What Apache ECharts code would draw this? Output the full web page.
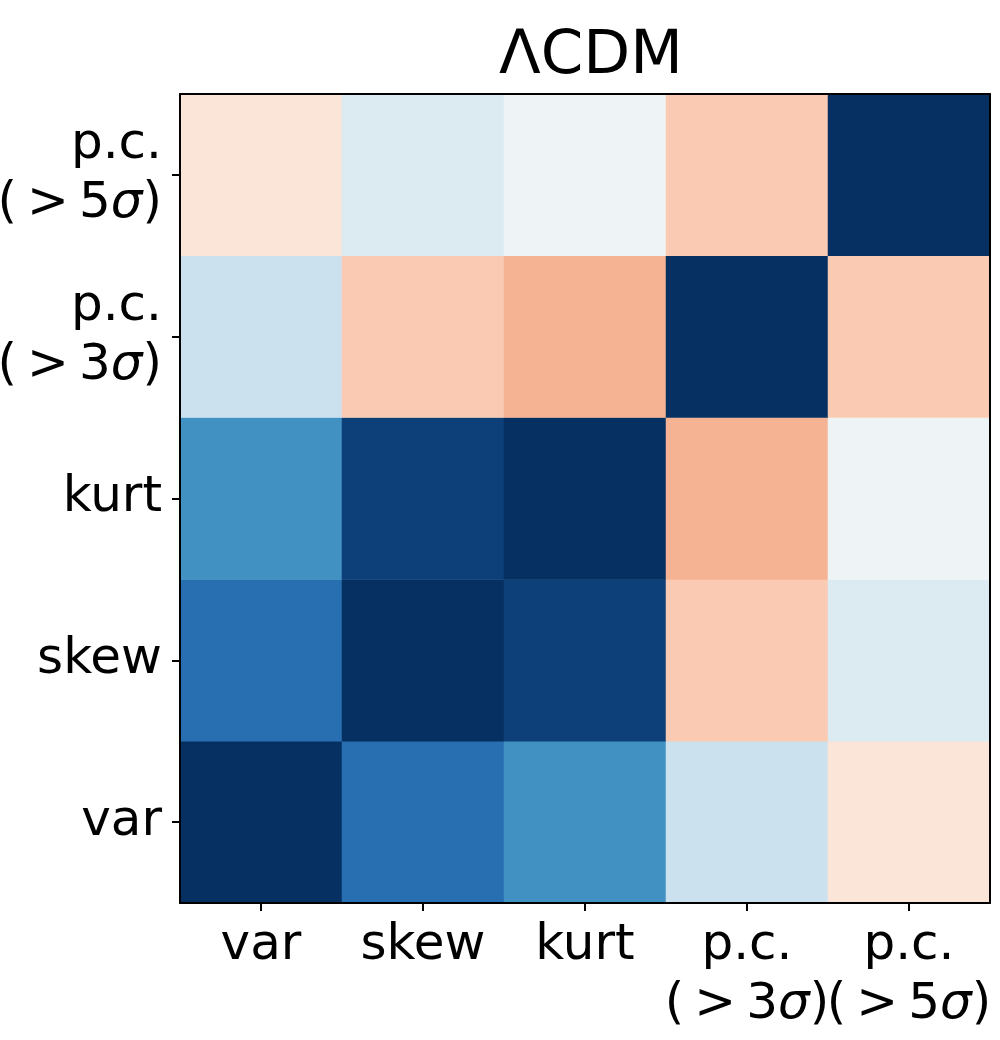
<!DOCTYPE html>
<html>
<head>
<meta charset="utf-8">
<script src="https://cdn.jsdelivr.net/npm/echarts@6/dist/echarts.min.js"></script>
<style>html,body{margin:0;padding:0;background:#fff}#c{width:1000px;height:1040px}</style>
</head>
<body>
<div id="c"></div>
<script>
// Categories (x left->right, y bottom->top)
const categories = ['var', 'skew', 'kurt', 'pc3', 'pc5'];
const tickLabelsX = ['var', 'skew', 'kurt', 'p.c.\n(\u2009>\u20093{i|σ})', 'p.c.\n(\u2009>\u20095{i|σ})'];
const tickLabelsY = ['var', 'skew', 'kurt', 'p.c.\n(\u2009>\u20093{i|σ})', 'p.c.\n(\u2009>\u20095{i|σ})'];
// Correlation matrix rows (same order as categories)
const rowVar  = [1.00, 0.76, 0.61, 0.22, -0.13];
const rowSkew = [0.76, 1.00, 0.94, -0.26, 0.14];
const rowKurt = [0.61, 0.94, 1.00, -0.35, 0.05];
const rowPc3  = [0.22, -0.26, -0.35, 1.00, -0.26];
const rowPc5  = [-0.13, 0.14, 0.05, -0.26, 1.00];
const rows = [rowVar, rowSkew, rowKurt, rowPc3, rowPc5];
const RdBu_r = ['#053061','#2166ac','#4393c3','#92c5de','#d1e5f0','#f7f7f7','#fddbc7','#f4a582','#d6604d','#b2182b','#67001f'].reverse();

const data = [];
rows.forEach((r, yi) => r.forEach((v, xi) => data.push([xi, yi, v])));

const font = 'DejaVu Sans';
const labelStyle = {
  fontFamily: font, fontSize: 50, color: '#000', lineHeight: 59,
  rich: { i: { fontFamily: font, fontSize: 50, fontStyle: 'italic', color: '#000', lineHeight: 59 } }
};
const chart = echarts.init(document.getElementById('c'));
chart.setOption({
  animation: false,
  backgroundColor: '#fff',
  title: {
    text: 'ΛCDM', left: 586, top: 22, textAlign: 'center',
    textStyle: { fontFamily: font, fontSize: 61, fontWeight: 'normal', color: '#000' }
  },
  grid: { left: 180, top: 94, width: 810, height: 809, containLabel: false, outerBoundsMode: 'none' },
  visualMap: { show: false, min: -1, max: 1, dimension: 2, inRange: { color: RdBu_r } },
  xAxis: [
    { type: 'category', data: categories, position: 'bottom', z: 10,
      axisLine: { show: true, lineStyle: { color: '#000', width: 2 } },
      axisTick: { show: true, alignWithLabel: true, length: 8, lineStyle: { color: '#000', width: 2 } },
      axisLabel: Object.assign({ interval: 0, margin: 14, hideOverlap: false,
        formatter: (v, i) => tickLabelsX[i] }, labelStyle),
      splitLine: { show: false } },
    { type: 'category', data: categories, position: 'top', z: 10,
      axisLine: { show: true, onZero: false, lineStyle: { color: '#000', width: 2 } },
      axisTick: { show: false }, axisLabel: { show: false }, splitLine: { show: false } }
  ],
  yAxis: [
    { type: 'category', data: categories, position: 'left', z: 10,
      axisLine: { show: true, lineStyle: { color: '#000', width: 2 } },
      axisTick: { show: true, alignWithLabel: true, length: 8, lineStyle: { color: '#000', width: 2 } },
      axisLabel: Object.assign({ interval: 0, margin: 18, align: 'right', hideOverlap: false,
        formatter: (v, i) => tickLabelsY[i] }, labelStyle),
      splitLine: { show: false } },
    { type: 'category', data: categories, position: 'right', z: 10,
      axisLine: { show: true, onZero: false, lineStyle: { color: '#000', width: 2 } },
      axisTick: { show: false }, axisLabel: { show: false }, splitLine: { show: false } }
  ],
  series: [{
    type: 'heatmap', xAxisIndex: 0, yAxisIndex: 0, data: data,
    itemStyle: { borderWidth: 0 }, label: { show: false }, emphasis: { disabled: true }
  }]
});
</script>
</body>
</html>
